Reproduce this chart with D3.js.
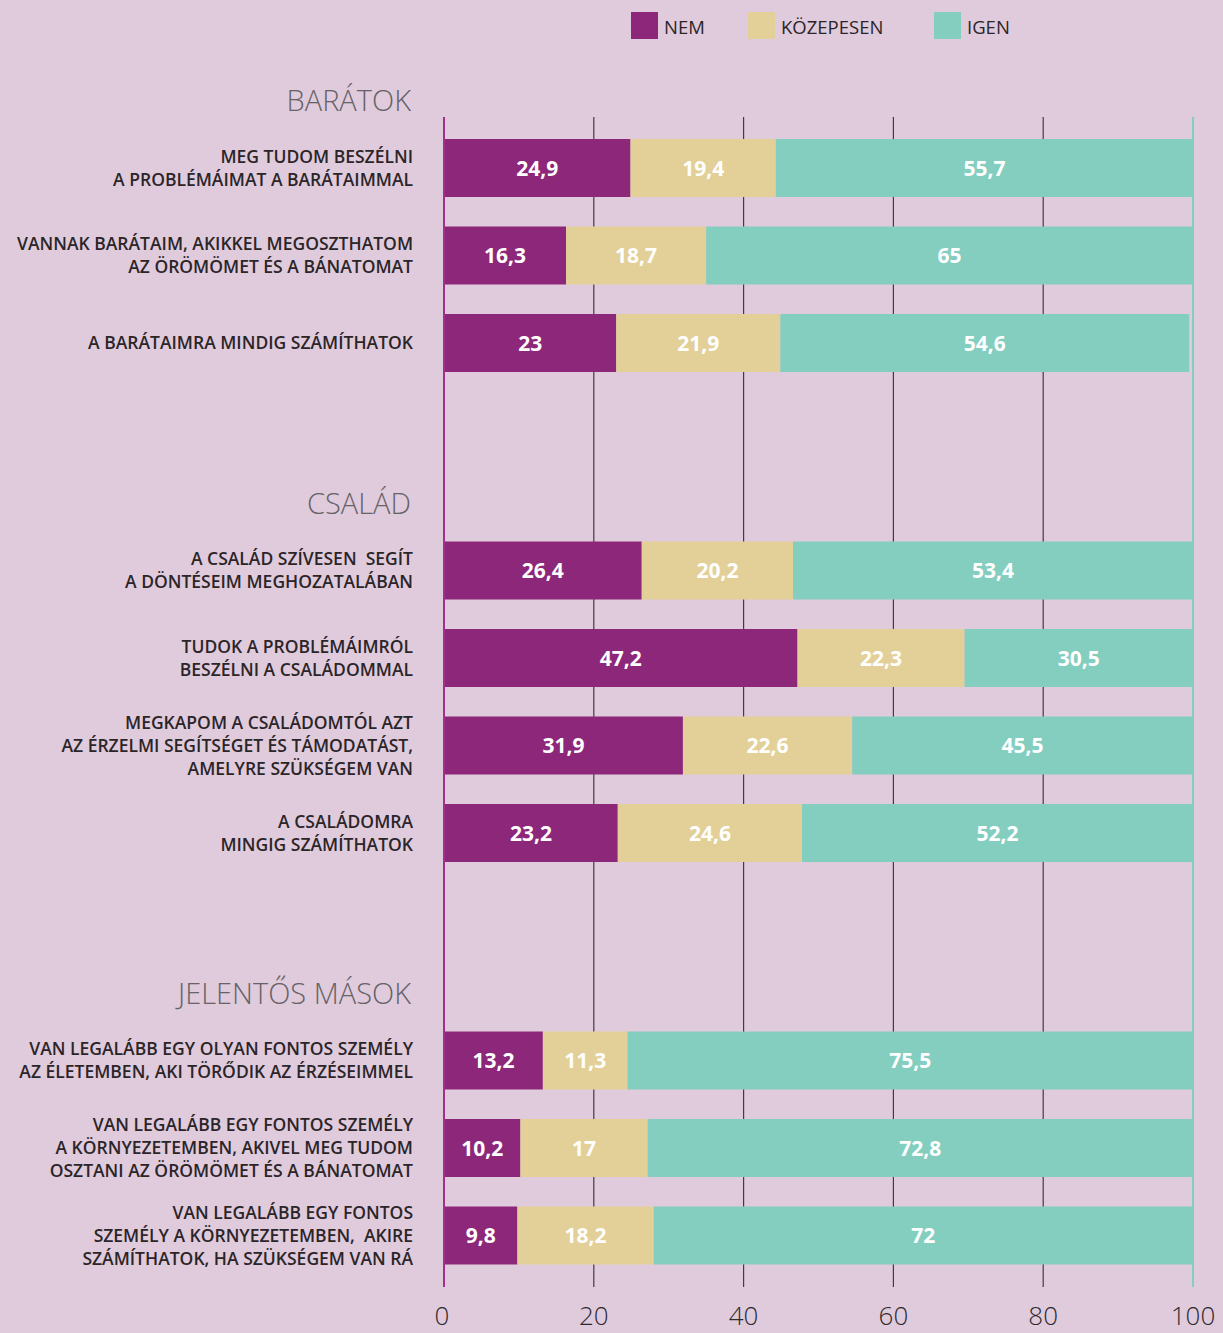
<!DOCTYPE html>
<html>
<head>
<meta charset="utf-8">
<script src="https://cdn.jsdelivr.net/npm/d3@7"></script>
<style>
  html, body { margin: 0; padding: 0; background: #e0cbdd; }
  svg { display: block; font-family: "Open Sans", "Noto Sans", sans-serif; }
</style>
</head>
<body>
<div id="chart"></div>
<script>
// Series names and colors
const seriesNames = ["NEM", "KÖZEPESEN", "IGEN"];
const seriesColors = ["#8d2779", "#e3d098", "#84cebf"];

// Section titles
const sections = ["BARÁTOK", "CSALÁD", "JELENTŐS MÁSOK"];

// Row labels (lines), per section
const labels = [
    [
        ["MEG TUDOM BESZÉLNI", "A PROBLÉMÁIMAT A BARÁTAIMMAL"],
        ["VANNAK BARÁTAIM, AKIKKEL MEGOSZTHATOM", "AZ ÖRÖMÖMET ÉS A BÁNATOMAT"],
        ["A BARÁTAIMRA MINDIG SZÁMÍTHATOK"]
    ],
    [
        ["A CSALÁD SZÍVESEN  SEGÍT", "A DÖNTÉSEIM MEGHOZATALÁBAN"],
        ["TUDOK A PROBLÉMÁIMRÓL", "BESZÉLNI A CSALÁDOMMAL"],
        ["MEGKAPOM A CSALÁDOMTÓL AZT", "AZ ÉRZELMI SEGÍTSÉGET ÉS TÁMODATÁST,", "AMELYRE SZÜKSÉGEM VAN"],
        ["A CSALÁDOMRA", "MINGIG SZÁMÍTHATOK"]
    ],
    [
        ["VAN LEGALÁBB EGY OLYAN FONTOS SZEMÉLY", "AZ ÉLETEMBEN, AKI TÖRŐDIK AZ ÉRZÉSEIMMEL"],
        ["VAN LEGALÁBB EGY FONTOS SZEMÉLY", "A KÖRNYEZETEMBEN, AKIVEL MEG TUDOM", "OSZTANI AZ ÖRÖMÖMET ÉS A BÁNATOMAT"],
        ["VAN LEGALÁBB EGY FONTOS", "SZEMÉLY A KÖRNYEZETEMBEN,  AKIRE", "SZÁMÍTHATOK, HA SZÜKSÉGEM VAN RÁ"]
    ]
];

// Values per section: [NEM, KÖZEPESEN, IGEN]
const valuesBaratok = [[24.9, 19.4, 55.7], [16.3, 18.7, 65], [23, 21.9, 54.6]];
const valuesCsalad = [[26.4, 20.2, 53.4], [47.2, 22.3, 30.5], [31.9, 22.6, 45.5], [23.2, 24.6, 52.2]];
const valuesMasok = [[13.2, 11.3, 75.5], [10.2, 17, 72.8], [9.8, 18.2, 72]];
const sectionValues = [valuesBaratok, valuesCsalad, valuesMasok];

const xTicks = [0, 20, 40, 60, 80, 100];

const W = 1223, H = 1333;
const svg = d3.select("#chart").append("svg")
    .attr("width", W)
    .attr("height", H);

const x = d3.scaleLinear().domain([0, 100]).range([444, 1193]);

// vertical layout
const barH = 58;
const rowPitch = 87.5;
const titleToBar = 28;
const sectionGap = 140;
const firstBarTop = 139;

// build rows with y positions
const rows = [];
const titles = [];
let yCur = firstBarTop;
sections.forEach((s, si) => {
    if (si > 0) yCur += sectionGap;
    titles.push({ text: s, y: yCur - titleToBar });
    sectionValues[si].forEach((vals, ri) => {
        rows.push({ lines: labels[si][ri], values: vals, y: yCur });
        yCur += rowPitch;
    });
});

const axisTop = 117, axisBottom = 1287;

// grid lines
svg.append("g")
    .selectAll("line")
    .data(xTicks.filter(d => d > 0 && d < 100))
    .join("line")
    .attr("x1", d => x(d)).attr("x2", d => x(d))
    .attr("y1", axisTop).attr("y2", axisBottom)
    .attr("stroke", "#433a41")
    .attr("stroke-width", 1.2);

// bars
const rowG = svg.append("g")
    .selectAll("g")
    .data(rows)
    .join("g")
    .attr("transform", d => `translate(0,${d.y})`);

rowG.each(function (d) {
    let acc = 0;
    const segs = d.values.map((v, i) => {
        const s = { start: acc, value: v, i };
        acc += v;
        return s;
    });
    const g = d3.select(this);
    g.selectAll("rect")
        .data(segs)
        .join("rect")
        .attr("x", s => x(s.start))
        .attr("y", 0)
        .attr("width", s => x(s.start + s.value) - x(s.start))
        .attr("height", barH)
        .attr("fill", s => seriesColors[s.i]);
    g.selectAll("text.val")
        .data(segs)
        .join("text")
        .attr("class", "val")
        .attr("x", s => (x(s.start) + x(s.start + s.value)) / 2)
        .attr("y", barH / 2)
        .attr("dy", "0.36em")
        .attr("text-anchor", "middle")
        .attr("fill", "#ffffff")
        .attr("font-size", 21)
        .attr("font-weight", 700)
        .text(s => String(s.value).replace(".", ","));

    // row label
    const lineH = 23;
    const n = d.lines.length;
    g.append("text")
        .attr("text-anchor", "end")
        .attr("fill", "#2b2528")
        .attr("font-size", 17.5)
        .attr("font-weight", 600)
        .selectAll("tspan")
        .data(d.lines)
        .join("tspan")
        .attr("x", 413)
        .attr("y", (l, i) => barH / 2 + (i - (n - 1) / 2) * lineH)
        .attr("dy", "0.36em")
        .style("white-space", "pre")
        .text(l => l);
});

// zero axis and 100 line
svg.append("line")
    .attr("x1", x(0)).attr("x2", x(0))
    .attr("y1", axisTop).attr("y2", axisBottom)
    .attr("stroke", "#a0308c").attr("stroke-width", 2);
svg.append("line")
    .attr("x1", x(100)).attr("x2", x(100))
    .attr("y1", axisTop).attr("y2", axisBottom)
    .attr("stroke", "#84cebf").attr("stroke-width", 2);

// section titles
svg.append("g")
    .selectAll("text")
    .data(titles)
    .join("text")
    .attr("x", 411)
    .attr("y", d => d.y)
    .attr("text-anchor", "end")
    .attr("fill", "#666266")
    .attr("font-size", 29)
    .attr("font-weight", 300)
    .text(d => d.text);

// x tick labels
svg.append("g")
    .selectAll("text")
    .data(xTicks)
    .join("text")
    .attr("x", d => x(d) - (d === 0 ? 2 : 0))
    .attr("y", 1325)
    .attr("text-anchor", "middle")
    .attr("fill", "#2e2a2d")
    .attr("font-size", 26)
    .attr("font-weight", 300)
    .text(d => d);

// legend
const legendX = [631, 748, 934];
const legend = svg.append("g")
    .selectAll("g")
    .data(seriesNames)
    .join("g")
    .attr("transform", (d, i) => `translate(${legendX[i]},12)`);
legend.append("rect")
    .attr("width", 27).attr("height", 27)
    .attr("fill", (d, i) => seriesColors[i]);
legend.append("text")
    .attr("x", 33)
    .attr("y", 15)
    .attr("dy", "0.36em")
    .attr("fill", "#2b2528")
    .attr("font-size", 18.5)
    .attr("font-weight", 500)
    .text(d => d);
</script>
</body>
</html>
